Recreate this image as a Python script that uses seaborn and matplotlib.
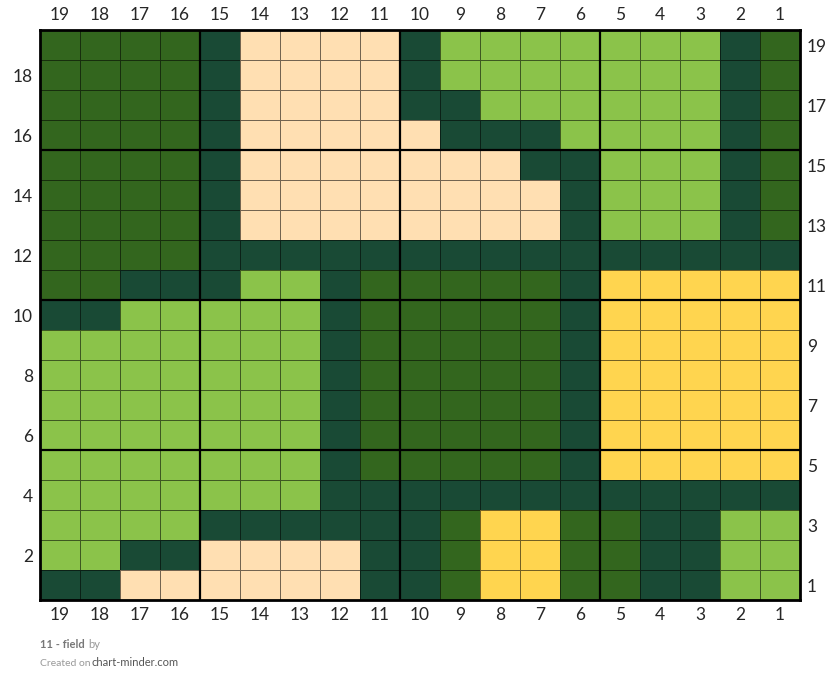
import matplotlib
matplotlib.use("Agg")
import matplotlib.pyplot as plt
from matplotlib.colors import ListedColormap
import numpy as np
import seaborn as sns

sns.set_style('white')
plt.rcParams['font.family'] = ['Lato', 'DejaVu Sans']

# column numbers, left to right (reversed axis)
cols = list(range(19, 0, -1))
# row numbers, top to bottom
rows = list(range(19, 0, -1))

# D = dark green, M = mid green, L = light green, P = peach, Y = yellow
codes = ['D', 'M', 'L', 'P', 'Y']
palette = ['#194a35', '#33661e', '#8bc34a', '#ffdfb2', '#ffd54f']

grid_rows = [
    "MMMMDPPPPDLLLLLLLDM",  # 19
    "MMMMDPPPPDLLLLLLLDM",  # 18
    "MMMMDPPPPDDLLLLLLDM",  # 17
    "MMMMDPPPPPDDDLLLLDM",  # 16
    "MMMMDPPPPPPPDDLLLDM",  # 15
    "MMMMDPPPPPPPPDLLLDM",  # 14
    "MMMMDPPPPPPPPDLLLDM",  # 13
    "MMMMDDDDDDDDDDDDDDD",  # 12
    "MMDDDLLDMMMMMDYYYYY",  # 11
    "DDLLLLLDMMMMMDYYYYY",  # 10
    "LLLLLLLDMMMMMDYYYYY",  # 9
    "LLLLLLLDMMMMMDYYYYY",  # 8
    "LLLLLLLDMMMMMDYYYYY",  # 7
    "LLLLLLLDMMMMMDYYYYY",  # 6
    "LLLLLLLDMMMMMDYYYYY",  # 5
    "LLLLLLLDDDDDDDDDDDD",  # 4
    "LLLLDDDDDDMYYMMDDLL",  # 3
    "LLDDPPPPDDMYYMMDDLL",  # 2
    "DDPPPPPPDDMYYMMDDLL",  # 1
]

matrix = np.array([[codes.index(c) for c in r] for r in grid_rows])

fig = plt.figure(figsize=(8.4, 6.93), dpi=100)
ax = fig.add_axes([40 / 840, 93 / 693, 760 / 840, 570 / 693])

sns.heatmap(matrix, ax=ax, cmap=ListedColormap(palette), vmin=-0.5, vmax=4.5,
            cbar=False, linewidths=0.6, linecolor=(0, 0, 0, 0.55),
            xticklabels=cols, yticklabels=False, square=False)

# thick block lines every 5 cells
for p in [4, 9, 14]:
    ax.axvline(p, color='black', lw=1.6)
    ax.axhline(p, color='black', lw=1.6)

for s in ax.spines.values():
    s.set_visible(True)
    s.set_color('black')
    s.set_linewidth(2)

ax.tick_params(axis='x', length=0, labelsize=12.5, top=True, labeltop=True, pad=5,
               labelrotation=0)

even_rows = [r for r in rows if r % 2 == 0]
odd_rows = [r for r in rows if r % 2 == 1]
ax.set_yticks([rows.index(r) + 0.5 for r in even_rows])
ax.set_yticklabels(even_rows, rotation=0)
ax.tick_params(axis='y', length=0, labelsize=12.5, pad=5)

ax2 = ax.twinx()
ax2.set_ylim(ax.get_ylim())
ax2.set_yticks([rows.index(r) + 0.5 for r in odd_rows])
ax2.set_yticklabels(odd_rows)
ax2.tick_params(axis='y', length=0, labelsize=12.5, pad=5)
for s in ax2.spines.values():
    s.set_visible(False)

fig.text(40 / 840, 1 - 645 / 693, "11 - field", fontsize=8, fontweight='bold',
         color='#777777', va='center')
fig.text(88 / 840, 1 - 645 / 693, "by", fontsize=8, color='#999999', va='center')
fig.text(40 / 840, 1 - 663 / 693, "Created on", fontsize=7.5, color='#999999', va='center')
fig.text(92 / 840, 1 - 663 / 693, "chart-minder.com", fontsize=8, color='#555555',
         va='center')

fig.savefig("out.png", dpi=100)
